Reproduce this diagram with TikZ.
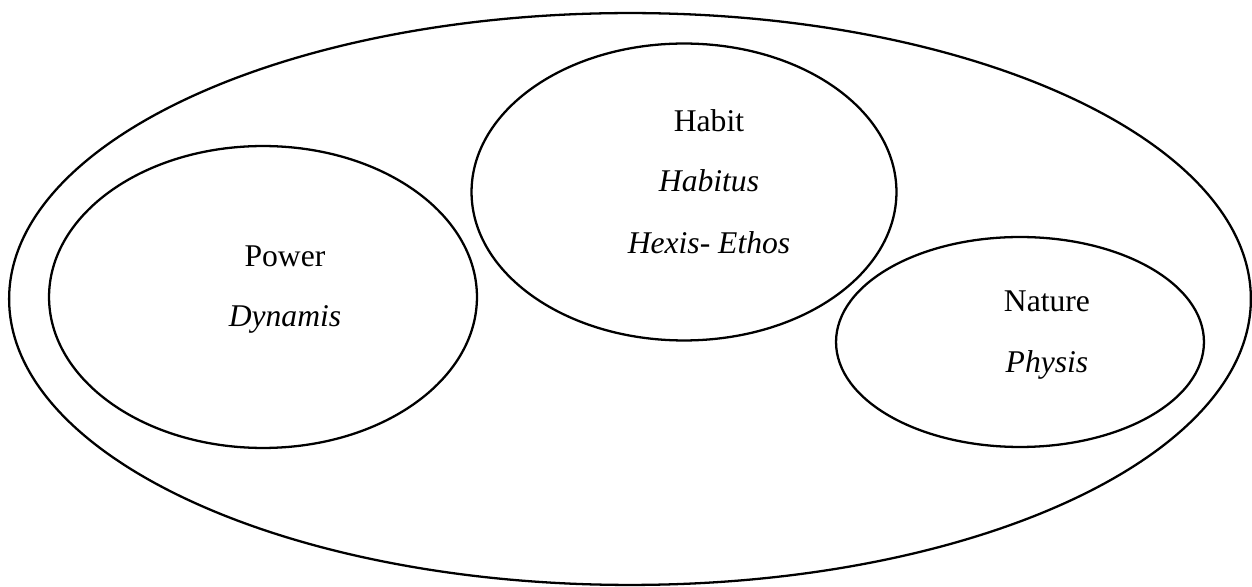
\documentclass[tikz,border=0pt]{standalone}
\usepackage{fontspec}
\setmainfont{Liberation Serif}
\usepackage{tikz}
\usetikzlibrary{shapes.geometric}

\begin{document}
\begin{tikzpicture}[
  x=0.02cm, y=-0.02cm,
  ring/.style={draw, ellipse, line width=1.3pt, inner sep=0pt},
  word/.style={anchor=base, inner sep=0pt, font=\fontsize{18}{22}\selectfont},
]
\useasboundingbox (0,0) rectangle (1252,587);
% outer frame
\node[ring, minimum width=24.84cm, minimum height=11.44cm] (outer) at (630,299) {};
% the three inner ellipses
\node[ring, minimum width=8.56cm, minimum height=6.04cm] (power) at (263,297) {};
\node[ring, minimum width=8.5cm, minimum height=5.94cm] (habit) at (684,192) {};
\node[ring, minimum width=7.36cm, minimum height=4.2cm] (nature) at (1020,342) {};
% labels
\node[word] (power-en) at (285,267) {Power};
\node[word] (power-gr) at (285,327) {\textit{Dynamis}};
\node[word] (habit-en) at (709,132) {Habit};
\node[word] (habit-la) at (709,192) {\textit{Habitus}};
\node[word] (habit-gr) at (709,254) {\textit{Hexis}- \textit{Ethos}};
\node[word] (nature-en) at (1047,312) {Nature};
\node[word] (nature-gr) at (1047,373) {\textit{Physis}};
\end{tikzpicture}
\end{document}
